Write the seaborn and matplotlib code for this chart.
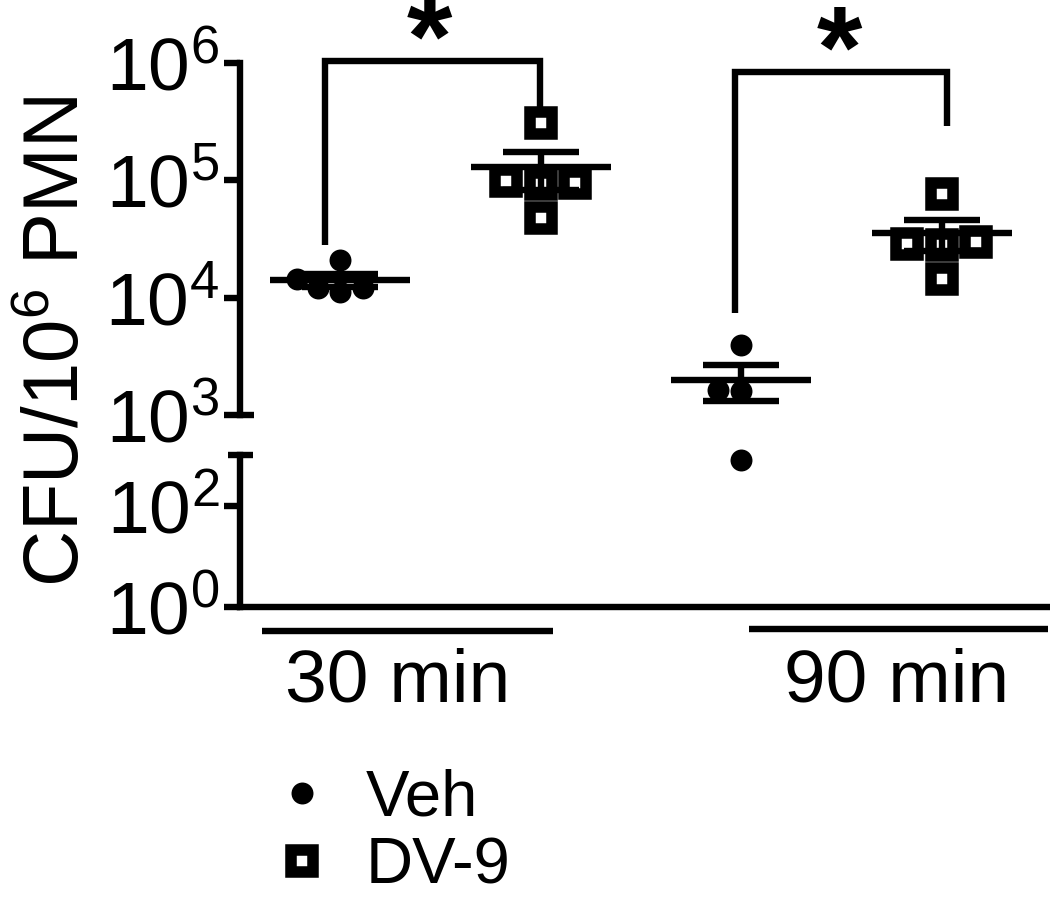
import numpy as np
import pandas as pd
import matplotlib
matplotlib.use("Agg")
import matplotlib.pyplot as plt
import seaborn as sns
from matplotlib.lines import Line2D
from matplotlib.ticker import NullLocator

# ---------------- data ----------------
groups = ["Veh 30", "DV-9 30", "Veh 90", "DV-9 90"]
treatments = ["Veh", "DV-9", "Veh", "DV-9"]
veh_30 = [20800, 12000, 11100, 12000, 14500]
dv9_30 = [305000, 92400, 47500, 95000, 99000]
veh_90 = [3940, 1630, 1600, 794]
dv9_90 = [76000, 14500, 27800, 28500, 29600]
series = [veh_30, dv9_30, veh_90, dv9_90]
time_labels = ["30 min", "90 min"]
legend_labels = ["Veh", "DV-9"]
upper_ticks = [1e3, 1e4, 1e5, 1e6]
upper_tick_labels = [r"$\mathregular{10^{3}}$", r"$\mathregular{10^{4}}$",
                     r"$\mathregular{10^{5}}$", r"$\mathregular{10^{6}}$"]
lower_ticks = [1e0, 1e2]
lower_tick_labels = [r"$\mathregular{10^{0}}$", r"$\mathregular{10^{2}}$"]
ylabel = r"CFU/10$^{6}$ PMN"
break_value = 1e3

rows = []
for g, t, vals in zip(groups, treatments, series):
    for v in vals:
        rows.append({"group": g, "treatment": t, "cfu": v})
df = pd.DataFrame(rows)

# ---------------- style ----------------
sns.set_style("white")
plt.rcParams["font.family"] = ["Liberation Sans", "DejaVu Sans"]
plt.rcParams["mathtext.fontset"] = "custom"
plt.rcParams["mathtext.rm"] = "Liberation Sans"
plt.rcParams["mathtext.it"] = "Liberation Sans:italic"
plt.rcParams["mathtext.bf"] = "Liberation Sans:bold"
plt.rcParams["mathtext.default"] = "regular"
plt.rcParams["text.color"] = "black"
plt.rcParams["axes.labelcolor"] = "black"
plt.rcParams["xtick.color"] = "black"
plt.rcParams["ytick.color"] = "black"

LW = 4.6
W, H = 1050, 906
fig = plt.figure(figsize=(W / 100, H / 100), dpi=100)
left_px, right_px = 240, 1048
ax_hi = fig.add_axes([left_px / W, 1 - 415 / H, (right_px - left_px) / W, (415 - 62.5) / H])
ax_lo = fig.add_axes([left_px / W, 1 - 607 / H, (right_px - left_px) / W, (607 - 455) / H])

for ax, ylim, part in ((ax_hi, (1e3, 1e6), df[df.cfu >= break_value]),
                       (ax_lo, (1e0, 1e3), df[df.cfu < break_value])):
    ax.set_yscale("log")
    sns.swarmplot(data=part[part.treatment == "Veh"], x="group", y="cfu", order=groups,
                  marker="o", color="black", size=15.8, linewidth=0, ax=ax, zorder=3)
    sns.swarmplot(data=part[part.treatment == "DV-9"], x="group", y="cfu", order=groups,
                  marker="s", color="white", edgecolor="black", size=15.5,
                  linewidth=8.3, ax=ax, zorder=3)
    for c in ax.collections:
        c.set_joinstyle("miter")
        if ax is ax_lo:
            c.set_clip_on(False)
    # mean +/- SEM
    for i, vals in enumerate(series):
        v = np.asarray(vals, float)
        m = v.mean()
        se = v.std(ddof=1) / np.sqrt(len(v))
        ax.hlines(m, i - 0.35, i + 0.35, color="black", lw=LW, zorder=5, capstyle="butt")
        ax.hlines([m - se, m + se], i - 0.19, i + 0.19, color="black", lw=LW, zorder=5, capstyle="butt")
        ax.vlines(i, m - se, m + se, color="black", lw=LW, zorder=5, capstyle="butt")
    ax.set_ylim(*ylim)
    ax.set_xlim(-0.5, 3.53)
    ax.set_xlabel("")
    ax.set_ylabel("")
    ax.tick_params(axis="x", bottom=False, labelbottom=False)
    ax.yaxis.set_minor_locator(NullLocator())
    ax.tick_params(axis="y", which="major", direction="out", length=11.5, width=LW,
                   labelsize=54, pad=3.5, color="black", labelcolor="black", left=True)
    for s in ("top", "right"):
        ax.spines[s].set_visible(False)
    ax.spines["left"].set_linewidth(LW)
    ax.spines["left"].set_color("black")
    ax.spines["left"].set_capstyle("projecting")
    ax.grid(False)

ax_hi.spines["bottom"].set_visible(False)
ax_lo.spines["bottom"].set_linewidth(LW)
ax_lo.spines["bottom"].set_color("black")
ax_hi.set_yticks(upper_ticks)
ax_hi.set_yticklabels(upper_tick_labels)
ax_lo.set_yticks(lower_ticks)
ax_lo.set_yticklabels(lower_tick_labels)

# axis-break caps
px = 1.0 / (right_px - left_px)
ax_hi.plot([0, 14 * px], [break_value, break_value], transform=ax_hi.get_yaxis_transform(),
           color="black", lw=LW, clip_on=False, solid_capstyle="butt")
ax_lo.plot([-12 * px, 13 * px], [break_value, break_value], transform=ax_lo.get_yaxis_transform(),
           color="black", lw=LW, clip_on=False, solid_capstyle="butt")

# significance brackets (x in category units, y in data units)
brackets = [(-0.077, 0.995, 10 ** 6.013, 10 ** 4.447, 10 ** 5.621, 0.446, 10 ** 5.88),
            (1.968, 3.025, 10 ** 5.919, 10 ** 3.868, 10 ** 5.46, 2.49, 10 ** 5.785)]
for xl, xr, ytop, yl, yr, sx, sy in brackets:
    ax_hi.plot([xl, xl, xr, xr], [yl, ytop, ytop, yr], color="black", lw=LW,
               clip_on=False, solid_joinstyle="miter", solid_capstyle="butt", zorder=6)
    ax_hi.text(sx, sy, "*", ha="center", va="baseline", fontsize=84, fontweight="bold",
               clip_on=False)

# group underlines and labels
tr = ax_lo.get_xaxis_transform()
ax_lo.plot([-0.39, 1.06], [-0.158, -0.158], transform=tr, color="black", lw=LW,
           clip_on=False, solid_capstyle="butt")
ax_lo.plot([2.04, 3.53], [-0.145, -0.145], transform=tr, color="black", lw=LW,
           clip_on=False, solid_capstyle="butt")
for x, lab in zip([0.287, 2.775], time_labels):
    ax_lo.text(x, -0.625, lab, transform=tr, ha="center", va="baseline", fontsize=54)

# y label
fig.text(59 / W, 1 - 342 / H, ylabel, rotation=90, ha="center", va="center", fontsize=56)

# legend
handles = [Line2D([], [], marker="o", ls="none", color="black", markersize=15.8, markeredgewidth=0),
           Line2D([], [], marker="s", ls="none", markerfacecolor="white", markeredgecolor="black",
                  markersize=15.5, markeredgewidth=8.3)]
fig.legend(handles, legend_labels, loc="upper left", bbox_to_anchor=(269.5 / W, 1 - 769 / H),
           frameon=False, fontsize=47, handlelength=1.0, handletextpad=0.47,
           labelspacing=0.12, borderpad=0, borderaxespad=0)

fig.savefig("out.png", dpi=100)
